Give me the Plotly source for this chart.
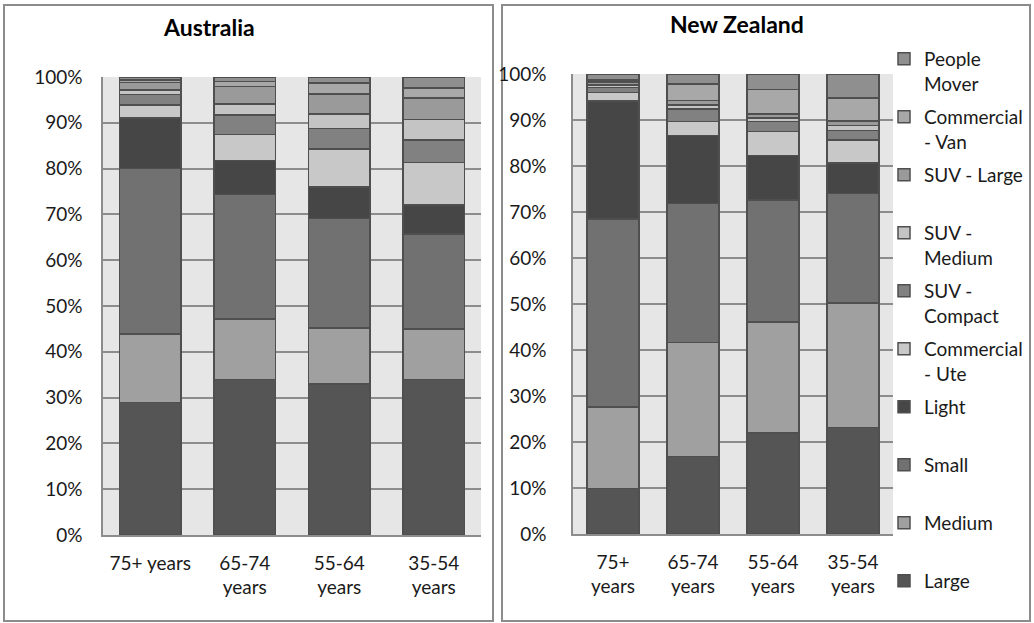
import plotly.graph_objects as go

# Age groups (category axis) and their tick text
age_groups = ["75+ years", "65-74 years", "55-64 years", "35-54 years"]
au_ticks = ["75+ years", "65-74<br>years", "55-64<br>years", "35-54<br>years"]
nz_ticks = ["75+<br>years", "65-74<br>years", "55-64<br>years", "35-54<br>years"]

# Vehicle segments, bottom of the stack first
segments = ["Large", "Medium", "Small", "Light", "Commercial - Ute",
            "SUV - Compact", "SUV - Medium", "SUV - Large",
            "Commercial - Van", "People Mover"]
# Legend labels, wrapped onto two lines so every entry takes the same height
legend_text = ["Large<br> ", "Medium<br> ", "Small<br> ", "Light<br> ",
               "Commercial<br>- Ute", "SUV -<br>Compact", "SUV -<br>Medium",
               "SUV - Large<br> ", "Commercial<br>- Van", "People<br>Mover"]
segment_colors = ["#555555", "#a0a0a0", "#717171", "#464646", "#c8c8c8",
                  "#818181", "#c4c4c4", "#9a9a9a", "#a8a8a8", "#8f8f8f"]

# Australia: share of purchases (%) per segment, by age group
au_large = [28.9, 33.9, 33.0, 33.9]
au_medium = [15.0, 13.3, 12.2, 11.1]
au_small = [36.1, 27.1, 23.9, 20.7]
au_light = [11.0, 7.5, 6.9, 6.3]
au_ute = [2.9, 5.7, 8.3, 9.3]
au_suv_compact = [2.3, 4.2, 4.5, 5.0]
au_suv_medium = [1.0, 2.4, 3.1, 4.4]
au_suv_large = [1.6, 3.8, 4.4, 4.7]
au_van = [0.6, 1.1, 2.4, 2.2]
au_people_mover = [0.6, 1.0, 1.3, 2.4]

# New Zealand: share of purchases (%) per segment, by age group
nz_large = [9.9, 16.8, 22.0, 23.1]
nz_medium = [17.7, 24.8, 24.1, 27.1]
nz_small = [40.9, 30.3, 26.5, 23.8]
nz_light = [25.6, 14.7, 9.7, 6.6]
nz_ute = [1.9, 3.1, 5.2, 5.1]
nz_suv_compact = [1.1, 2.7, 2.2, 2.0]
nz_suv_medium = [0.5, 0.9, 0.7, 1.1]
nz_suv_large = [0.7, 0.9, 0.9, 1.0]
nz_van = [0.4, 3.6, 5.3, 5.0]
nz_people_mover = [1.3, 2.2, 3.4, 5.2]

au_series = [au_large, au_medium, au_small, au_light, au_ute, au_suv_compact,
             au_suv_medium, au_suv_large, au_van, au_people_mover]
nz_series = [nz_large, nz_medium, nz_small, nz_light, nz_ute, nz_suv_compact,
             nz_suv_medium, nz_suv_large, nz_van, nz_people_mover]

W, H = 1034, 623
FONT = "Lato, 'Open Sans', sans-serif"
TEXT = "#1a1a1a"


def px_x(p):
    return p / W


def px_y(p):
    return 1 - p / H


fig = go.Figure()

for i, name in enumerate(segments):
    fig.add_trace(go.Bar(
        x=age_groups, y=au_series[i], name=legend_text[i],
        marker=dict(color=segment_colors[i], line=dict(color="#4f4f4f", width=1.5)),
        legendgroup=name, showlegend=False, xaxis="x", yaxis="y",
        hovertemplate=name + ": %{y}%<extra>Australia</extra>",
    ))
for i, name in enumerate(segments):
    fig.add_trace(go.Bar(
        x=age_groups, y=nz_series[i], name=legend_text[i],
        marker=dict(color=segment_colors[i], line=dict(color="#4f4f4f", width=1.5)),
        legendgroup=name, legendrank=1000 - 10 * i, showlegend=True,
        xaxis="x2", yaxis="y2",
        hovertemplate=name + ": %{y}%<extra>New Zealand</extra>",
    ))

tick_font = dict(family=FONT, size=19, color=TEXT)
xaxis_common = dict(showgrid=False, showline=True, linecolor="#8c8c8c", linewidth=1.5,
                    ticks="", tickfont=tick_font, automargin=False,
                    ticklabelstandoff=10, fixedrange=True)
yaxis_common = dict(range=[0, 100], dtick=10, ticksuffix="%", showgrid=True,
                    gridcolor="#8c8c8c", gridwidth=1.5, zeroline=False,
                    showline=True, linecolor="#8c8c8c", linewidth=1.5, ticks="",
                    tickfont=tick_font, automargin=False, fixedrange=True)

fig.update_layout(
    width=W, height=H,
    margin=dict(l=0, r=0, t=0, b=0, autoexpand=False),
    paper_bgcolor="white",
    plot_bgcolor="#e6e6e6",
    barmode="stack",
    bargap=0.35,
    font=dict(family=FONT, size=19, color=TEXT),
    xaxis=dict(domain=[px_x(103), px_x(481)], anchor="y",
               tickvals=age_groups, ticktext=au_ticks, **xaxis_common),
    yaxis=dict(domain=[px_y(535), px_y(77)], anchor="x",
               ticklabelstandoff=15, **yaxis_common),
    xaxis2=dict(domain=[px_x(573), px_x(893)], anchor="y2",
                tickvals=age_groups, ticktext=nz_ticks, **xaxis_common),
    yaxis2=dict(domain=[px_y(534), px_y(74)], anchor="x2",
                ticklabelstandoff=21, **yaxis_common),
    legend=dict(x=px_x(884), y=px_y(40), xanchor="left", yanchor="top",
                traceorder="grouped", tracegroupgap=5.6, valign="top",
                font=dict(family=FONT, size=19, color=TEXT),
                bgcolor="rgba(0,0,0,0)", itemclick=False, itemdoubleclick=False),
    showlegend=True,
)

# Chart frames
for x0, x1 in [(4, 493), (502, 1030)]:
    fig.add_shape(type="rect", xref="paper", yref="paper",
                  x0=px_x(x0), x1=px_x(x1), y0=px_y(621), y1=px_y(5),
                  line=dict(color="#8c8c8c", width=2), fillcolor="rgba(0,0,0,0)",
                  layer="below")

# Panel titles
for text, cx, cy in [("Australia", 209, 27), ("New Zealand", 737, 24)]:
    fig.add_annotation(text="<b>" + text + "</b>", xref="paper", yref="paper",
                       x=px_x(cx), y=px_y(cy), showarrow=False,
                       xanchor="center", yanchor="middle",
                       font=dict(family=FONT, size=23, color="#000000"))

fig.write_html("out.html")
